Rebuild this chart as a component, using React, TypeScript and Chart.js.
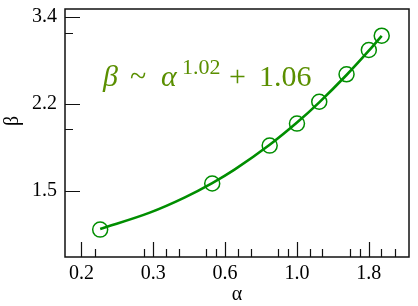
import React, { useEffect, useRef } from "react";
import { Chart, registerables } from "chart.js";

Chart.register(...registerables);

// Measured data points (alpha, beta)
const alphaValues = [0.2, 0.5, 0.8, 1.0, 1.2, 1.5, 1.8, 2.0];
const betaValues = [1.25, 1.55, 1.85, 2.05, 2.27, 2.58, 2.89, 3.09];

// Fit curve
const fitAlpha = [0.2, 0.3, 0.4, 0.5, 0.6, 0.8, 1.0, 1.2, 1.5, 1.8, 2.0];
const fitBeta = [1.254, 1.353, 1.453, 1.553, 1.654, 1.857, 2.06, 2.264, 2.572, 2.881, 3.088];

// Axes
const xRange = [0.15, 2.5];
const yRange = [1.1, 3.5];
const xTickValues = [0.1715, 0.3086, 0.5556, 1.0, 1.8];
const xTickLabels = ["0.2", "0.3", "0.6", "1.0", "1.8"];
const xMinorTicks = [0.191, 0.286, 0.3425, 0.38, 0.474, 0.514, 0.618, 0.685, 0.855, 0.927, 1.111, 1.232, 1.538, 1.668, 1.994, 2.234];
const yTickValues = [1.5, 2.25, 3.375];
const yTickLabels = ["1.5", "2.2", "3.4"];
const yMinorTicks = [2.0, 3.13];

const xTitle = "α";
const yTitle = "β";

const SERIF = "Liberation Serif";
const GREEN = "#008e00";
const OLIVE = "#5a8f00";

const framePlugin = {
  id: "frame",
  afterDraw(chart: any) {
    const { ctx, chartArea: a, scales } = chart;
    const xs = scales.x;
    const ys = scales.y;
    ctx.save();
    ctx.strokeStyle = "#111";
    ctx.lineWidth = 1.5;
    ctx.strokeRect(a.left, a.top, a.right - a.left, a.bottom - a.top);
    ctx.lineWidth = 1.2;
    ctx.beginPath();
    xTickValues.forEach((v) => {
      const p = Math.round(xs.getPixelForValue(v)) + 0.5;
      ctx.moveTo(p, a.bottom);
      ctx.lineTo(p, a.bottom - 15);
    });
    xMinorTicks.forEach((v) => {
      const p = Math.round(xs.getPixelForValue(v)) + 0.5;
      ctx.moveTo(p, a.bottom);
      ctx.lineTo(p, a.bottom - 8);
    });
    yTickValues.forEach((v) => {
      const p = Math.round(ys.getPixelForValue(v)) + 0.5;
      ctx.moveTo(a.left, p);
      ctx.lineTo(a.left + 15, p);
    });
    yMinorTicks.forEach((v) => {
      const p = Math.round(ys.getPixelForValue(v)) + 0.5;
      ctx.moveTo(a.left, p);
      ctx.lineTo(a.left + 8, p);
    });
    ctx.stroke();

    // axis titles
    ctx.fillStyle = "#000";
    ctx.font = '20px "Liberation Serif"';
    ctx.textAlign = "center";
    ctx.textBaseline = "alphabetic";
    ctx.fillText(xTitle, (a.left + a.right) / 2, 300);
    ctx.save();
    ctx.translate(17.5, 121);
    ctx.rotate(-Math.PI / 2);
    ctx.fillText(yTitle, 0, 0);
    ctx.restore();

    // fit annotation
    ctx.fillStyle = OLIVE;
    ctx.textAlign = "left";
    const base = 85.5;
    ctx.font = 'italic 30px "Liberation Serif"';
    ctx.fillText("β", 103, base);
    ctx.font = '30px "Liberation Serif"';
    ctx.fillText("~", 130, base);
    ctx.font = 'italic 30px "Liberation Serif"';
    ctx.fillText("α", 161, base);
    ctx.font = '22px "Liberation Serif"';
    ctx.fillText("1.02", 182, 73.5);
    ctx.font = '30px "Liberation Serif"';
    ctx.fillText("+", 229, base);
    ctx.fillText("1.06", 259, base);
    ctx.restore();
  },
};

export default function App() {
  const ref = useRef<HTMLCanvasElement | null>(null);
  useEffect(() => {
    document.body.style.margin = "0";
    const canvas = ref.current;
    if (!canvas) return;
    const chart = new Chart(canvas, {
      type: "scatter",
      data: {
        datasets: [
          {
            label: "data",
            data: alphaValues.map((x, i) => ({ x, y: betaValues[i] })),
            showLine: false,
            pointRadius: 7.5,
            pointBorderWidth: 1.5,
            pointBorderColor: GREEN,
            pointBackgroundColor: "rgba(0,0,0,0)",
            borderColor: GREEN,
            backgroundColor: "rgba(0,0,0,0)",
          },
          {
            label: "fit",
            data: fitAlpha.map((x, i) => ({ x, y: fitBeta[i] })),
            showLine: true,
            pointRadius: 0,
            borderWidth: 2.6,
            borderColor: GREEN,
            backgroundColor: GREEN,
            cubicInterpolationMode: "monotone",
          },
        ],
      },
      options: {
        responsive: false,
        animation: false,
        layout: { padding: { top: 5, right: 7.3, left: 0, bottom: 0 } },
        plugins: { legend: { display: false }, tooltip: { enabled: false } },
        scales: {
          x: {
            type: "logarithmic",
            min: xRange[0],
            max: xRange[1],
            grid: { display: false, drawTicks: false },
            border: { display: false },
            afterBuildTicks: (s: any) => {
              s.ticks = xTickValues.map((v) => ({ value: v }));
            },
            afterFit: (s: any) => {
              s.height = 49;
              s.paddingLeft = 0;
              s.paddingRight = 0;
            },
            ticks: {
              autoSkip: false,
              maxRotation: 0,
              padding: 5,
              color: "#000",
              font: { family: SERIF, size: 20 },
              callback: (_v: any, i: number) => xTickLabels[i],
            },
          },
          y: {
            type: "logarithmic",
            min: yRange[0],
            max: yRange[1],
            grid: { display: false, drawTicks: false },
            border: { display: false },
            afterBuildTicks: (s: any) => {
              s.ticks = yTickValues.map((v) => ({ value: v }));
            },
            afterFit: (s: any) => {
              s.width = 65;
              s.paddingTop = 0;
              s.paddingBottom = 0;
            },
            ticks: {
              autoSkip: false,
              padding: 8,
              color: "#000",
              font: { family: SERIF, size: 20 },
              callback: (_v: any, i: number) => yTickLabels[i],
            },
          },
        },
      },
      plugins: [framePlugin],
    });
    return () => chart.destroy();
  }, []);
  return (
    <div style={{ width: 418, height: 306 }}>
      <canvas ref={ref} width={418} height={306} style={{ width: 418, height: 306, display: "block" }} />
    </div>
  );
}
